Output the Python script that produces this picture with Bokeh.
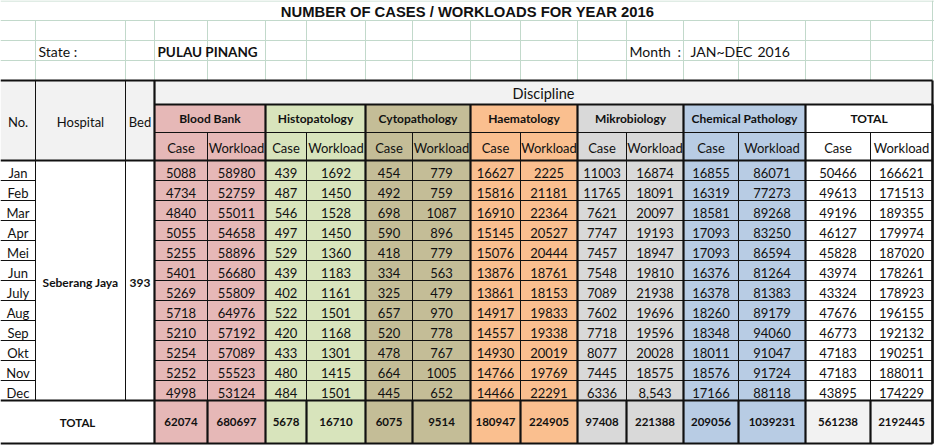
from bokeh.plotting import figure
from bokeh.models import Range1d, ColumnDataSource
from bokeh.core.properties import value
from bokeh.embed import file_html
from bokeh.resources import INLINE

# ---------------- data ----------------
title = "NUMBER OF CASES / WORKLOADS FOR YEAR 2016"
state_label = "State :"
state = "PULAU PINANG"
month_parts = ["Month", ":", "JAN~DEC", "2016"]
hospital = "Seberang Jaya"
beds = 393
months = ["Jan", "Feb", "Mar", "Apr", "Mei", "Jun", "July", "Aug", "Sep", "Okt", "Nov", "Dec"]
disciplines = ["Blood Bank", "Histopatology", "Cytopathology", "Haematology",
               "Mikrobiology", "Chemical Pathology", "TOTAL"]
sub_labels = ["Case", "Workload"]

blood_bank_case = [5088, 4734, 4840, 5055, 5255, 5401, 5269, 5718, 5210, 5254, 5252, 4998]
blood_bank_workload = [58980, 52759, 55011, 54658, 58896, 56680, 55809, 64976, 57192, 57089, 55523, 53124]
histo_case = [439, 487, 546, 497, 529, 439, 402, 522, 420, 433, 480, 484]
histo_workload = [1692, 1450, 1528, 1450, 1360, 1183, 1161, 1501, 1168, 1301, 1415, 1501]
cyto_case = [454, 492, 698, 590, 418, 334, 325, 657, 520, 478, 664, 445]
cyto_workload = [779, 759, 1087, 896, 779, 563, 479, 970, 778, 767, 1005, 652]
haem_case = [16627, 15816, 16910, 15145, 15076, 13876, 13861, 14917, 14557, 14930, 14766, 14466]
haem_workload = [2225, 21181, 22364, 20527, 20444, 18761, 18153, 19833, 19338, 20019, 19769, 22291]
mikro_case = [11003, 11765, 7621, 7747, 7457, 7548, 7089, 7602, 7718, 8077, 7445, 6336]
mikro_workload = [16874, 18091, 20097, 19193, 18947, 19810, 21938, 19696, 19596, 20028, 18575, "8,543"]
chem_case = [16855, 16319, 18581, 17093, 17093, 16376, 16378, 18260, 18348, 18011, 18576, 17166]
chem_workload = [86071, 77273, 89268, 83250, 86594, 81264, 81383, 89179, 94060, 91047, 91724, 88118]
total_case = [50466, 49613, 49196, 46127, 45828, 43974, 43324, 47676, 46773, 47183, 47183, 43895]
total_workload = [166621, 171513, 189355, 179974, 187020, 178261, 178923, 196155, 192132, 190251, 188011, 174229]
sum_case = [62074, 5678, 6075, 180947, 97408, 209056, 561238]
sum_workload = [680697, 16710, 9514, 224905, 221388, 1039231, 2192445]

series = [
    (blood_bank_case, blood_bank_workload),
    (histo_case, histo_workload),
    (cyto_case, cyto_workload),
    (haem_case, haem_workload),
    (mikro_case, mikro_workload),
    (chem_case, chem_workload),
    (total_case, total_workload),
]

# ---------------- layout / style ----------------
W, H = 934, 445
col_edges = [0, 35, 125, 154, 207, 265, 306, 365, 412, 470, 520, 577, 626, 683, 738, 805, 870, 932]
group_fill = ["#e6b8b7", "#d8e4bc", "#c4bd97", "#fabf8f", "#d9d9d9", "#b8cce4", "#ffffff"]
total_fill = ["#e6b8b7", "#d8e4bc", "#c4bd97", "#fabf8f", "#d9d9d9", "#b8cce4", "#f2f2f2"]
head_fill = "#f2f2f2"
grid_col = "#c2d9cb"
ink = "#111111"
FONT = "Lato"
FS = "13px"

y_top_table = 80
y_disc = 104
y_group = 132
y_data0 = 160
row_h = 20
y_total = y_data0 + row_h * len(months)
y_bottom = 443
x_right = col_edges[-1]

p = figure(width=W, height=H, output_backend="svg", toolbar_location=None,
           x_range=Range1d(0, W), y_range=Range1d(H, 0),
           x_axis_type=None, y_axis_type=None, min_border=0,
           outline_line_color=None, background_fill_color="white",
           border_fill_color="white")
p.xgrid.visible = False
p.ygrid.visible = False

# ---- fills ----
ql, qr, qt, qb, qc = [], [], [], [], []
def cell(l, r, t, b, c):
    ql.append(l); qr.append(r); qt.append(t); qb.append(b); qc.append(c)

cell(0, col_edges[3], y_top_table, y_data0, head_fill)
cell(col_edges[3], x_right, y_top_table, y_disc, head_fill)
for g in range(len(disciplines)):
    l, r = col_edges[3 + 2 * g], col_edges[5 + 2 * g]
    cell(l, r, y_disc, y_total, group_fill[g])
    cell(l, r, y_total, y_bottom, total_fill[g])
p.quad(left="l", right="r", top="t", bottom="b", fill_color="c", line_color=None,
       source=ColumnDataSource(dict(l=ql, r=qr, t=qt, b=qb, c=qc)))

# ---- lines ----
def segs():
    return dict(x0=[], y0=[], x1=[], y1=[])
grid, thin, thick = segs(), segs(), segs()
def seg(d, x0, y0, x1, y1):
    d["x0"].append(x0); d["y0"].append(y0); d["x1"].append(x1); d["y1"].append(y1)

for y in (0.5, 20, 40, 60):
    seg(grid, 0, y, W, y)
seg(grid, x_right, 0, x_right, y_top_table)
for x in col_edges[1:-1]:
    seg(grid, x, 20, x, y_top_table)

seg(thick, 0, y_top_table, x_right, y_top_table)
seg(thick, x_right, y_top_table, x_right, y_bottom)
seg(thick, 0, y_bottom, x_right, y_bottom)
seg(thick, 0, y_total, x_right, y_total)
seg(thick, col_edges[3], y_top_table, col_edges[3], y_bottom)
seg(thick, col_edges[3], y_disc, x_right, y_disc)
seg(thick, 0, y_data0, x_right, y_data0)
for x in (col_edges[1], col_edges[2]):
    seg(thin, x, y_top_table, x, y_total)
for g in range(len(disciplines)):
    l, m, r = col_edges[3 + 2 * g], col_edges[4 + 2 * g], col_edges[5 + 2 * g]
    seg(thick, r, y_disc, r, y_bottom)
    seg(thin, l, y_group, r, y_group)
    seg(thin, m, y_group, m, y_total)
    seg(thick, m, y_total, m, y_bottom)
for k in range(1, len(months)):
    y = y_data0 + row_h * k
    seg(thin, 0, y, col_edges[1], y)
    seg(thin, col_edges[3], y, x_right, y)

p.segment(x0="x0", y0="y0", x1="x1", y1="y1", line_color=grid_col, line_width=1,
          source=ColumnDataSource(grid))
p.segment(x0="x0", y0="y0", x1="x1", y1="y1", line_color=ink, line_width=1,
          source=ColumnDataSource(thin))
p.segment(x0="x0", y0="y0", x1="x1", y1="y1", line_color=ink, line_width=2.2,
          source=ColumnDataSource(thick))

# ---- texts ----
def add_text(xs, ys, texts, size=FS, bold=False, align="center", font=FONT):
    p.text(x="x", y="y", text="t", source=ColumnDataSource(dict(x=xs, y=ys, t=texts)),
           text_font=value(font), text_font_size=size,
           text_font_style="bold" if bold else "normal",
           text_align=align, text_baseline="middle", text_color=ink)

add_text([W / 2], [11], [title], size="14.8px", bold=True, font="Liberation Sans")
add_text([38], [51], [state_label], size="14px", align="left")
add_text([157], [51], [state], size="13.5px", bold=True, align="left")
add_text([629, 677, 690, 757], [51] * 4, month_parts, size="14px", align="left")

mid = lambda a, b: (a + b) / 2
y_head = mid(y_top_table, y_data0)
add_text([mid(col_edges[0], col_edges[1]), mid(col_edges[1], col_edges[2]), mid(col_edges[2], col_edges[3])],
         [y_head + 1] * 3, ["No.", "Hospital", "Bed"])
add_text([mid(col_edges[3], x_right)], [mid(y_top_table, y_disc) + 1], ["Discipline"], size="14.5px")

gx, gy, gt = [], [], []
sx, sy, st = [], [], []
for g, name in enumerate(disciplines):
    l, m, r = col_edges[3 + 2 * g], col_edges[4 + 2 * g], col_edges[5 + 2 * g]
    gx.append(mid(l, r)); gy.append(mid(y_disc, y_group)); gt.append(name)
    sx += [mid(l, m), mid(m, r)]; sy += [mid(y_group, y_data0) + 1] * 2; st += sub_labels
add_text(gx, gy, gt, size="12px", bold=True)
add_text(sx, sy, st)

dx, dy, dt = [], [], []
for g, (cs, ws) in enumerate(series):
    l, m, r = col_edges[3 + 2 * g], col_edges[4 + 2 * g], col_edges[5 + 2 * g]
    for k in range(len(months)):
        yc = y_data0 + row_h * k + row_h / 2 + 2.5
        dx += [mid(l, m), mid(m, r)]; dy += [yc, yc]; dt += [str(cs[k]), str(ws[k])]
add_text(dx, dy, dt)

add_text([mid(col_edges[0], col_edges[1])] * len(months),
         [y_data0 + row_h * k + row_h / 2 + 2.5 for k in range(len(months))], months)
y_mid_data = mid(y_data0, y_total)
add_text([mid(col_edges[1], col_edges[2]), mid(col_edges[2], col_edges[3])],
         [y_mid_data + 2, y_mid_data + 2], [hospital, str(beds)], size="12px", bold=True)

tx, ty, tt = [mid(0, col_edges[3])], [mid(y_total, y_bottom)], ["TOTAL"]
for g in range(len(disciplines)):
    l, m, r = col_edges[3 + 2 * g], col_edges[4 + 2 * g], col_edges[5 + 2 * g]
    tx += [mid(l, m), mid(m, r)]
    ty += [mid(y_total, y_bottom)] * 2
    tt += [str(sum_case[g]), str(sum_workload[g])]
add_text(tx, ty, tt, size="11.5px", bold=True)

open("out.html", "w").write(file_html(p, INLINE))
